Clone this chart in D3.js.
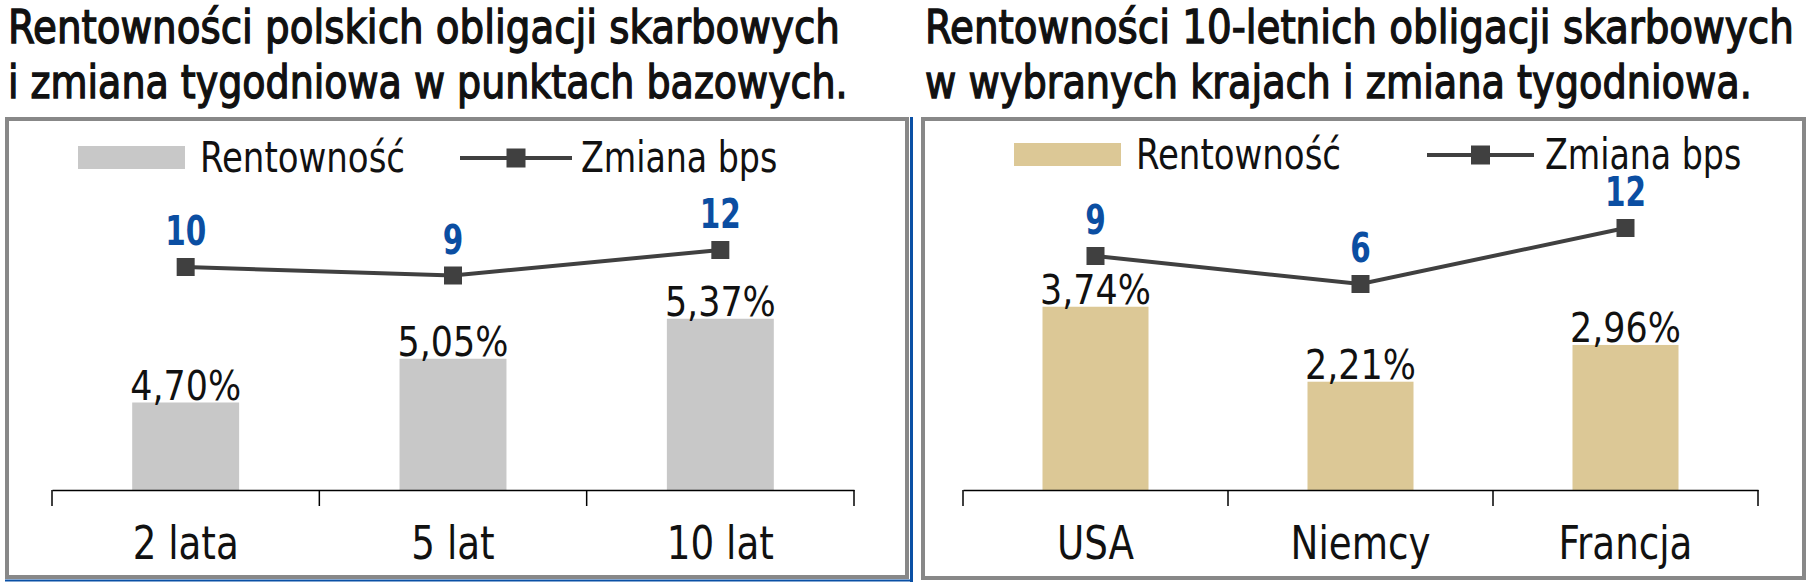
<!DOCTYPE html>
<html>
<head>
<meta charset="utf-8">
<script src="https://cdn.jsdelivr.net/npm/d3@7"></script>
<style>
  body { margin: 0; background: #ffffff; }
  svg text { font-family: "DejaVu Sans Condensed", "DejaVu Sans", sans-serif; font-stretch: condensed; }
</style>
</head>
<body>
<div id="chart"></div>
<script>
// Data for the left chart (Polish bonds)
var plCategories = ["2 lata", "5 lat", "10 lat"];
var plYields = [4.70, 5.05, 5.37];
var plChange = [10, 9, 12];

// Data for the right chart (10y bonds abroad)
var fxCategories = ["USA", "Niemcy", "Francja"];
var fxYields = [3.74, 2.21, 2.96];
var fxChange = [9, 6, 12];

var legendLabels = ["Rentowność", "Zmiana bps"];

var svgWidth = 1815;
var svgHeight = 585;

var svg = d3.select("#chart")
  .append("svg")
  .attr("width", svgWidth)
  .attr("height", svgHeight);

// format 4.7 -> "4,70%"
function pct(v) {
  return v.toFixed(2).replace(".", ",") + "%";
}

// squeeze text horizontally (tall, narrow glyphs like the original font)
// k < 1 is a factor, k > 1 is a target width in px
function squeeze(sel, k) {
  sel.each(function() {
    var t = d3.select(this);
    var x = +t.attr("x"), y = +t.attr("y");
    var f = k > 1 ? k / this.getComputedTextLength() : k;
    t.attr("x", 0).attr("y", 0)
      .attr("transform", `translate(${x},${y}) scale(${f},1)`);
  });
}

function drawPanel(opts) {
  var g = svg.append("g");

  // titles (two lines)
  opts.titles.forEach(function(t, i) {
    g.append("text")
      .attr("x", opts.titleX)
      .attr("y", 43 + i * 55)
      .attr("font-size", "46px")
      .attr("fill", "#111")
      .attr("stroke", "#111")
      .attr("stroke-width", 1.3)
      .text(t)
      .call(squeeze, opts.titleWidths[i]);
  });

  // frame
  g.append("rect")
    .attr("x", opts.frame[0])
    .attr("y", opts.frame[1])
    .attr("width", opts.frame[2])
    .attr("height", opts.frame[3])
    .attr("fill", "none")
    .attr("stroke", "#888888")
    .attr("stroke-width", 4);

  // scales
  var xBand = d3.scaleBand()
    .domain(opts.categories)
    .range(opts.xRange)
    .padding(0);

  var yBar = d3.scaleLinear()
    .domain(opts.barDomain)
    .range([490, opts.barTop]);

  var yLine = d3.scaleLinear()
    .domain([0, 12])
    .range(opts.lineRange);

  var barW = xBand.step() * 0.4;
  var cx = (d, i) => xBand(opts.categories[i]) + xBand.bandwidth() / 2;

  // bars
  g.selectAll(".bar")
    .data(opts.yields)
    .enter()
    .append("rect")
    .attr("x", (d, i) => cx(d, i) - barW / 2)
    .attr("y", d => yBar(d))
    .attr("width", barW)
    .attr("height", d => 490 - yBar(d))
    .attr("fill", opts.barColor);

  // bar value labels
  g.selectAll(".barLabel")
    .data(opts.yields)
    .enter()
    .append("text")
    .attr("x", cx)
    .attr("y", d => yBar(d) - 3)
    .attr("text-anchor", "middle")
    .attr("font-size", "40px")
    .attr("fill", "#111")
    .text(d => pct(d))
    .call(squeeze, 0.97);

  // x axis: line with ticks between categories
  var bottomAxis = d3.axisBottom(xBand).tickSize(0).tickFormat("");
  var axisG = g.append("g")
    .attr("transform", "translate(0,490)")
    .call(bottomAxis);
  axisG.select(".domain").attr("stroke", "#000").attr("stroke-width", 1.5);

  var bounds = opts.categories.map(c => xBand(c)).concat([opts.xRange[1]]);
  axisG.selectAll(".sep")
    .data(bounds)
    .enter()
    .append("line")
    .attr("x1", d => d)
    .attr("x2", d => d)
    .attr("y1", 0)
    .attr("y2", 16)
    .attr("stroke", "#000")
    .attr("stroke-width", 1.5);

  // category labels
  g.selectAll(".cat")
    .data(opts.categories)
    .enter()
    .append("text")
    .attr("x", d => xBand(d) + xBand.bandwidth() / 2)
    .attr("y", 559)
    .attr("text-anchor", "middle")
    .attr("font-size", "46px")
    .attr("fill", "#111")
    .text(d => d)
    .call(squeeze, 0.9);

  // change line
  var drawLine = d3.line()
    .x(cx)
    .y(d => yLine(d));

  g.append("path")
    .datum(opts.change)
    .attr("d", drawLine)
    .attr("fill", "none")
    .attr("stroke", "#404040")
    .attr("stroke-width", 4);

  g.selectAll(".marker")
    .data(opts.change)
    .enter()
    .append("rect")
    .attr("x", (d, i) => cx(d, i) - 9)
    .attr("y", d => yLine(d) - 9)
    .attr("width", 18)
    .attr("height", 18)
    .attr("fill", "#404040");

  g.selectAll(".changeLabel")
    .data(opts.change)
    .enter()
    .append("text")
    .attr("x", cx)
    .attr("y", d => yLine(d) - 22)
    .attr("text-anchor", "middle")
    .attr("font-size", "40px")
    .attr("font-weight", "bold")
    .attr("fill", "#0b4ea2")
    .text(d => d)
    .call(squeeze, 0.82);

  // legend
  var lg = opts.legend;
  g.append("rect")
    .attr("x", lg.rectX)
    .attr("y", lg.y - 12)
    .attr("width", 107)
    .attr("height", 23)
    .attr("fill", opts.barColor);
  g.append("text")
    .attr("x", lg.text1X)
    .attr("y", lg.y + 14)
    .attr("font-size", "42px")
    .attr("fill", "#111")
    .text(legendLabels[0])
    .call(squeeze, 0.9);
  g.append("line")
    .attr("x1", lg.lineX[0])
    .attr("x2", lg.lineX[1])
    .attr("y1", lg.y)
    .attr("y2", lg.y)
    .attr("stroke", "#404040")
    .attr("stroke-width", 4);
  g.append("rect")
    .attr("x", (lg.lineX[0] + lg.lineX[1]) / 2 - 9.5)
    .attr("y", lg.y - 9.5)
    .attr("width", 19)
    .attr("height", 19)
    .attr("fill", "#404040");
  g.append("text")
    .attr("x", lg.text2X)
    .attr("y", lg.y + 14)
    .attr("font-size", "42px")
    .attr("fill", "#111")
    .text(legendLabels[1])
    .call(squeeze, 0.88);
}

drawPanel({
  titles: ["Rentowności polskich obligacji skarbowych", "i zmiana tygodniowa w punktach bazowych."],
  titleWidths: [832, 840],
  titleX: 8,
  frame: [7, 119, 900, 458],
  categories: plCategories,
  yields: plYields,
  change: plChange,
  xRange: [52, 854],
  barDomain: [4, 6],
  barTop: 240,
  lineRange: [352, 250],
  barColor: "#c8c8c8",
  legend: { y: 158, rectX: 78, text1X: 200, lineX: [460, 572], text2X: 581 }
});

drawPanel({
  titles: ["Rentowności 10-letnich obligacji skarbowych", "w wybranych krajach i zmiana tygodniowa."],
  titleWidths: [869, 827],
  titleX: 925,
  frame: [923, 119, 881, 459],
  categories: fxCategories,
  yields: fxYields,
  change: fxChange,
  xRange: [963, 1758],
  barDomain: [0, 5],
  barTop: 245,
  lineRange: [340, 228],
  barColor: "#dcc896",
  legend: { y: 155, rectX: 1014, text1X: 1136, lineX: [1427, 1534], text2X: 1545 }
});

// thin blue accent lines around the left frame
svg.append("line")
  .attr("x1", 911.5).attr("x2", 911.5)
  .attr("y1", 117).attr("y2", 582)
  .attr("stroke", "#0a50a5").attr("stroke-width", 3);
svg.append("line")
  .attr("x1", 5).attr("x2", 913)
  .attr("y1", 580.5).attr("y2", 580.5)
  .attr("stroke", "#0a50a5").attr("stroke-width", 2);
</script>
</body>
</html>
